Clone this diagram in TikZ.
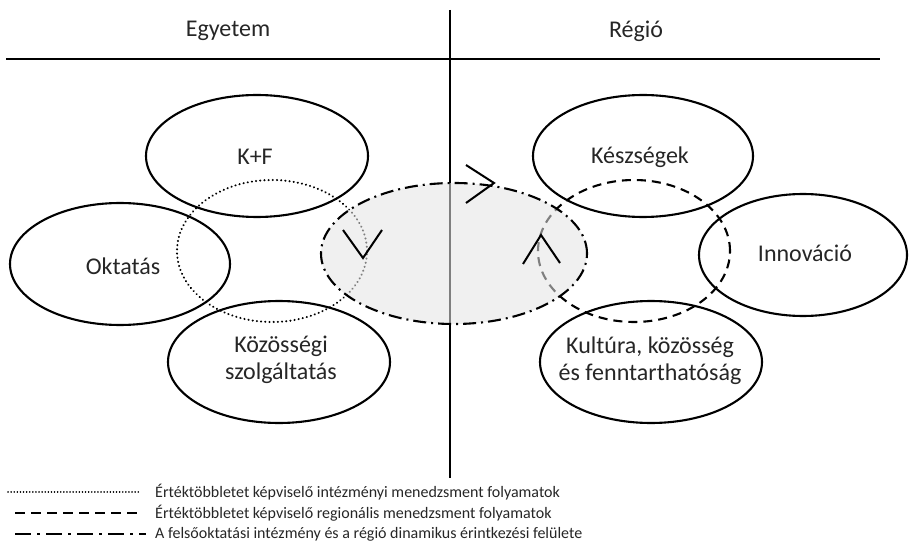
\documentclass[tikz,border=0pt]{standalone}
\usepackage{fontspec}
\setmainfont{Carlito}
\definecolor{txt}{HTML}{262626}
\definecolor{shade}{RGB}{228,228,228}
\begin{document}
\begin{tikzpicture}[x=1pt,y=-1pt,
  oval/.style={line width=2.1pt},
  dotline/.style={line width=2.2pt, line cap=round, dash pattern=on 0.1pt off 4.1pt},
  dashline/.style={line width=2.1pt, dash pattern=on 9pt off 6pt},
  dashdotline/.style={line width=2.1pt, dash pattern=on 13pt off 5pt on 2pt off 5pt},
  chev/.style={line width=2pt},
  lbl/.style={font=\fontsize{24}{27}\selectfont, text=txt, align=center, inner sep=0pt},
  leg/.style={font=\fontsize{16}{19}\selectfont, text=txt, anchor=west, inner sep=0pt}]
\useasboundingbox (0,0) rectangle (912,553);
% axes
\coordinate (vt) at (450,10);
\coordinate (vb) at (450,478);
\coordinate (hl) at (6,59);
\coordinate (hr) at (880,59);
\draw[line width=2pt] (vt) -- (vb);
\draw[line width=2.6pt] (hl) -- (hr);
\node[lbl] (egy) at (228,31) {Egyetem};
\node[lbl] (reg) at (636,31) {Régió};
% solid ellipses
\coordinate (ckf) at (257,156);
\coordinate (cokt) at (120,264);
\coordinate (ckoz) at (279,362);
\coordinate (ckesz) at (643,156);
\coordinate (cinn) at (803,255);
\coordinate (ckult) at (651,362);
\draw[oval] (ckf) ellipse [x radius=111pt, y radius=61pt];
\draw[oval] (cokt) ellipse [x radius=110pt, y radius=61pt];
\draw[oval] (ckoz) ellipse [x radius=111pt, y radius=61pt];
\draw[oval] (ckesz) ellipse [x radius=110pt, y radius=61pt];
\draw[oval] (cinn) ellipse [x radius=104pt, y radius=61pt];
\draw[oval] (ckult) ellipse [x radius=111pt, y radius=61pt];
\node[lbl] (kf) at (255,157) {K+F};
\node[lbl] (okt) at (123,266) {Oktatás};
\node[lbl] (koz) at (281,360) {Közösségi\\szolgáltatás};
\node[lbl] (kesz) at (640,157) {Készségek};
\node[lbl] (inn) at (805,253) {Innováció};
\node[lbl] (kult) at (650,361) {Kultúra, közösség\\és fenntarthatóság};
% process ellipses
\coordinate (cdot) at (272,251);
\coordinate (cdash) at (634,251);
\coordinate (cgray) at (454,253.5);
\draw[dotline] (cdot) ellipse [x radius=95pt, y radius=71pt];
\draw[dashline] (cdash) ellipse [x radius=96pt, y radius=71pt];
\draw[dashdotline, fill=shade, fill opacity=0.56] (cgray) ellipse [x radius=133pt, y radius=70.5pt];
% chevrons
\coordinate (a1) at (343,230); \coordinate (a2) at (363,258); \coordinate (a3) at (382,230);
\coordinate (b1) at (466,165); \coordinate (b2) at (494,183); \coordinate (b3) at (466,203);
\coordinate (d1) at (523,264); \coordinate (d2) at (541,235); \coordinate (d3) at (560,263);
\draw[chev] (a1) -- (a2) -- (a3);
\draw[chev] (b1) -- (b2) -- (b3);
\draw[chev] (d1) -- (d2) -- (d3);
% legend
\coordinate (l1a) at (8,492);  \coordinate (l1b) at (140,492);
\coordinate (l2a) at (15,513); \coordinate (l2b) at (143,513);
\coordinate (l3a) at (15,534); \coordinate (l3b) at (146,534);
\draw[line width=1.6pt, line cap=round, dash pattern=on 0.1pt off 3pt] (l1a) -- (l1b);
\draw[line width=2pt, dash pattern=on 10pt off 6pt] (l2a) -- (l2b);
\draw[line width=2pt, dash pattern=on 16pt off 6pt on 3pt off 6pt] (l3a) -- (l3b);
\node[leg] (t1) at (155,492) {Értéktöbbletet képviselő intézményi menedzsment folyamatok};
\node[leg] (t2) at (155,513) {Értéktöbbletet képviselő regionális menedzsment folyamatok};
\node[leg] (t3) at (155,534) {A felsőoktatási intézmény és a régió dinamikus érintkezési felülete};
\end{tikzpicture}
\end{document}
